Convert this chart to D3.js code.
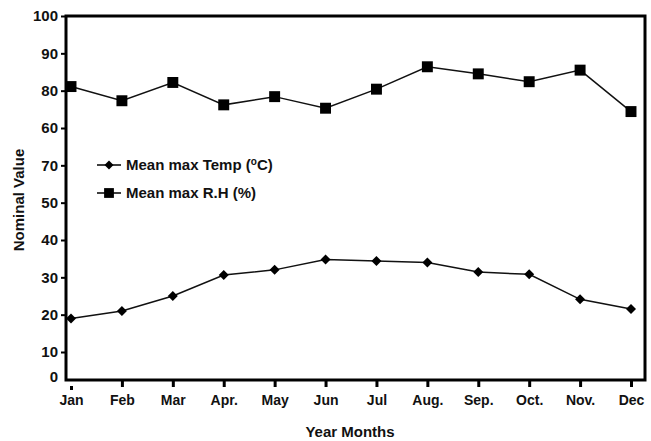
<!DOCTYPE html>
<html><head><meta charset="utf-8">
<script src="https://cdn.jsdelivr.net/npm/d3@7/dist/d3.min.js"></script>
<style>body{margin:0;background:#fff}svg{display:block;font-family:"Liberation Sans",Arial,sans-serif}</style>
</head><body><svg id="c" width="651" height="441"></svg>
<script>
const months = ["Jan","Feb","Mar","Apr.","May","Jun","Jul","Aug.","Sep.","Oct.","Nov.","Dec"];
const tempValues = [19.0,21.0,25.0,30.6,32.0,34.8,34.4,34.0,31.4,30.8,24.1,21.5];
const rhValues = [81.1,77.3,82.2,76.2,78.4,75.3,80.4,86.4,84.5,82.4,85.5,74.4];
const yTickValues = [0,10,20,30,40,50,60,70,80,90,100];
const yTickLabels = ["0","10","20","30","40","50","70","60","80","90","100"];
const seriesNames = ["Mean max Temp (\u00BAC)","Mean max R.H (%)"];

const svg = d3.select("#c");
const L=66, T=16, R=645, B=380;
const x = d3.scalePoint().domain(months).range([71,631]);
const y = d3.scaleLinear().domain([0,10,100]).range([B,352,T]);
const FF = "Liberation Sans, Arial, sans-serif";

// frame
svg.append("rect").attr("x",L).attr("y",T).attr("width",R-L).attr("height",B-T)
  .attr("fill","none").attr("stroke","#000").attr("stroke-width",3);

// y axis
const yAxis = svg.append("g").attr("transform",`translate(${L},0)`)
  .call(d3.axisLeft(y).tickValues(yTickValues).tickSize(5).tickPadding(3)
    .tickFormat((d,i)=>yTickLabels[i]));
yAxis.select(".domain").remove();
yAxis.selectAll(".tick line").attr("stroke-width",2);
yAxis.selectAll(".tick").filter(d=>d===0).select("line").remove();
yAxis.selectAll("text").attr("font-size",15).attr("font-weight","bold").attr("fill","#111")
  .attr("font-family",FF);
yAxis.selectAll(".tick").filter(d=>d===0).select("text").attr("dy","0.1em");

// x axis
const xAxis = svg.append("g").attr("transform",`translate(0,${B})`)
  .call(d3.axisBottom(x).tickSize(7).tickPadding(8));
xAxis.select(".domain").remove();
xAxis.selectAll(".tick line").attr("stroke-width",3);
xAxis.selectAll(".tick").filter((d,i)=>i===0).select("line").attr("y1",6).attr("y2",10);
xAxis.selectAll("text").attr("font-size",14).attr("font-weight","bold").attr("fill","#111")
  .attr("font-family",FF);

// axis titles
svg.append("text").attr("x",350).attr("y",437).attr("text-anchor","middle")
  .attr("font-size",15).attr("font-weight","bold").attr("fill","#111").text("Year Months");
svg.append("text").attr("transform","translate(24,200) rotate(-90)").attr("text-anchor","middle")
  .attr("font-size",15).attr("font-weight","bold").attr("fill","#111").text("Nominal Value");

const line = d3.line().x((d,i)=>x(months[i])).y(d=>y(d));
const series = [
  {vals:tempValues, sym:d3.symbolSquare, size:50, rot:45},
  {vals:rhValues, sym:d3.symbolSquare, size:120, rot:0}
];
series.forEach(s=>{
  svg.append("path").datum(s.vals).attr("d",line).attr("fill","none")
    .attr("stroke","#111").attr("stroke-width",1.5);
  svg.append("g").selectAll("path").data(s.vals).join("path")
    .attr("transform",(d,i)=>`translate(${x(months[i])},${y(d)}) rotate(${s.rot})`)
    .attr("d",d3.symbol().type(s.sym).size(s.size)).attr("fill","#000");
});

// legend
const lg = svg.append("g");
series.forEach((s,i)=>{
  const yy = 165 + i*28;
  lg.append("line").attr("x1",97).attr("x2",121).attr("y1",yy).attr("y2",yy)
    .attr("stroke","#111").attr("stroke-width",1.6);
  lg.append("path").attr("transform",`translate(109,${yy}) rotate(${s.rot})`)
    .attr("d",d3.symbol().type(s.sym).size(s.size*0.8)).attr("fill","#000");
  const t = lg.append("text").attr("x",126).attr("y",yy+5).attr("font-size",15)
    .attr("font-weight","bold").attr("fill","#111");
  if(i===0){
    t.append("tspan").text("Mean max Temp (");
    t.append("tspan").attr("font-size",10).attr("dy",-5).text("o");
    t.append("tspan").attr("dy",5).text("C)");
  } else t.text(seriesNames[1]);
});
</script></body></html>
